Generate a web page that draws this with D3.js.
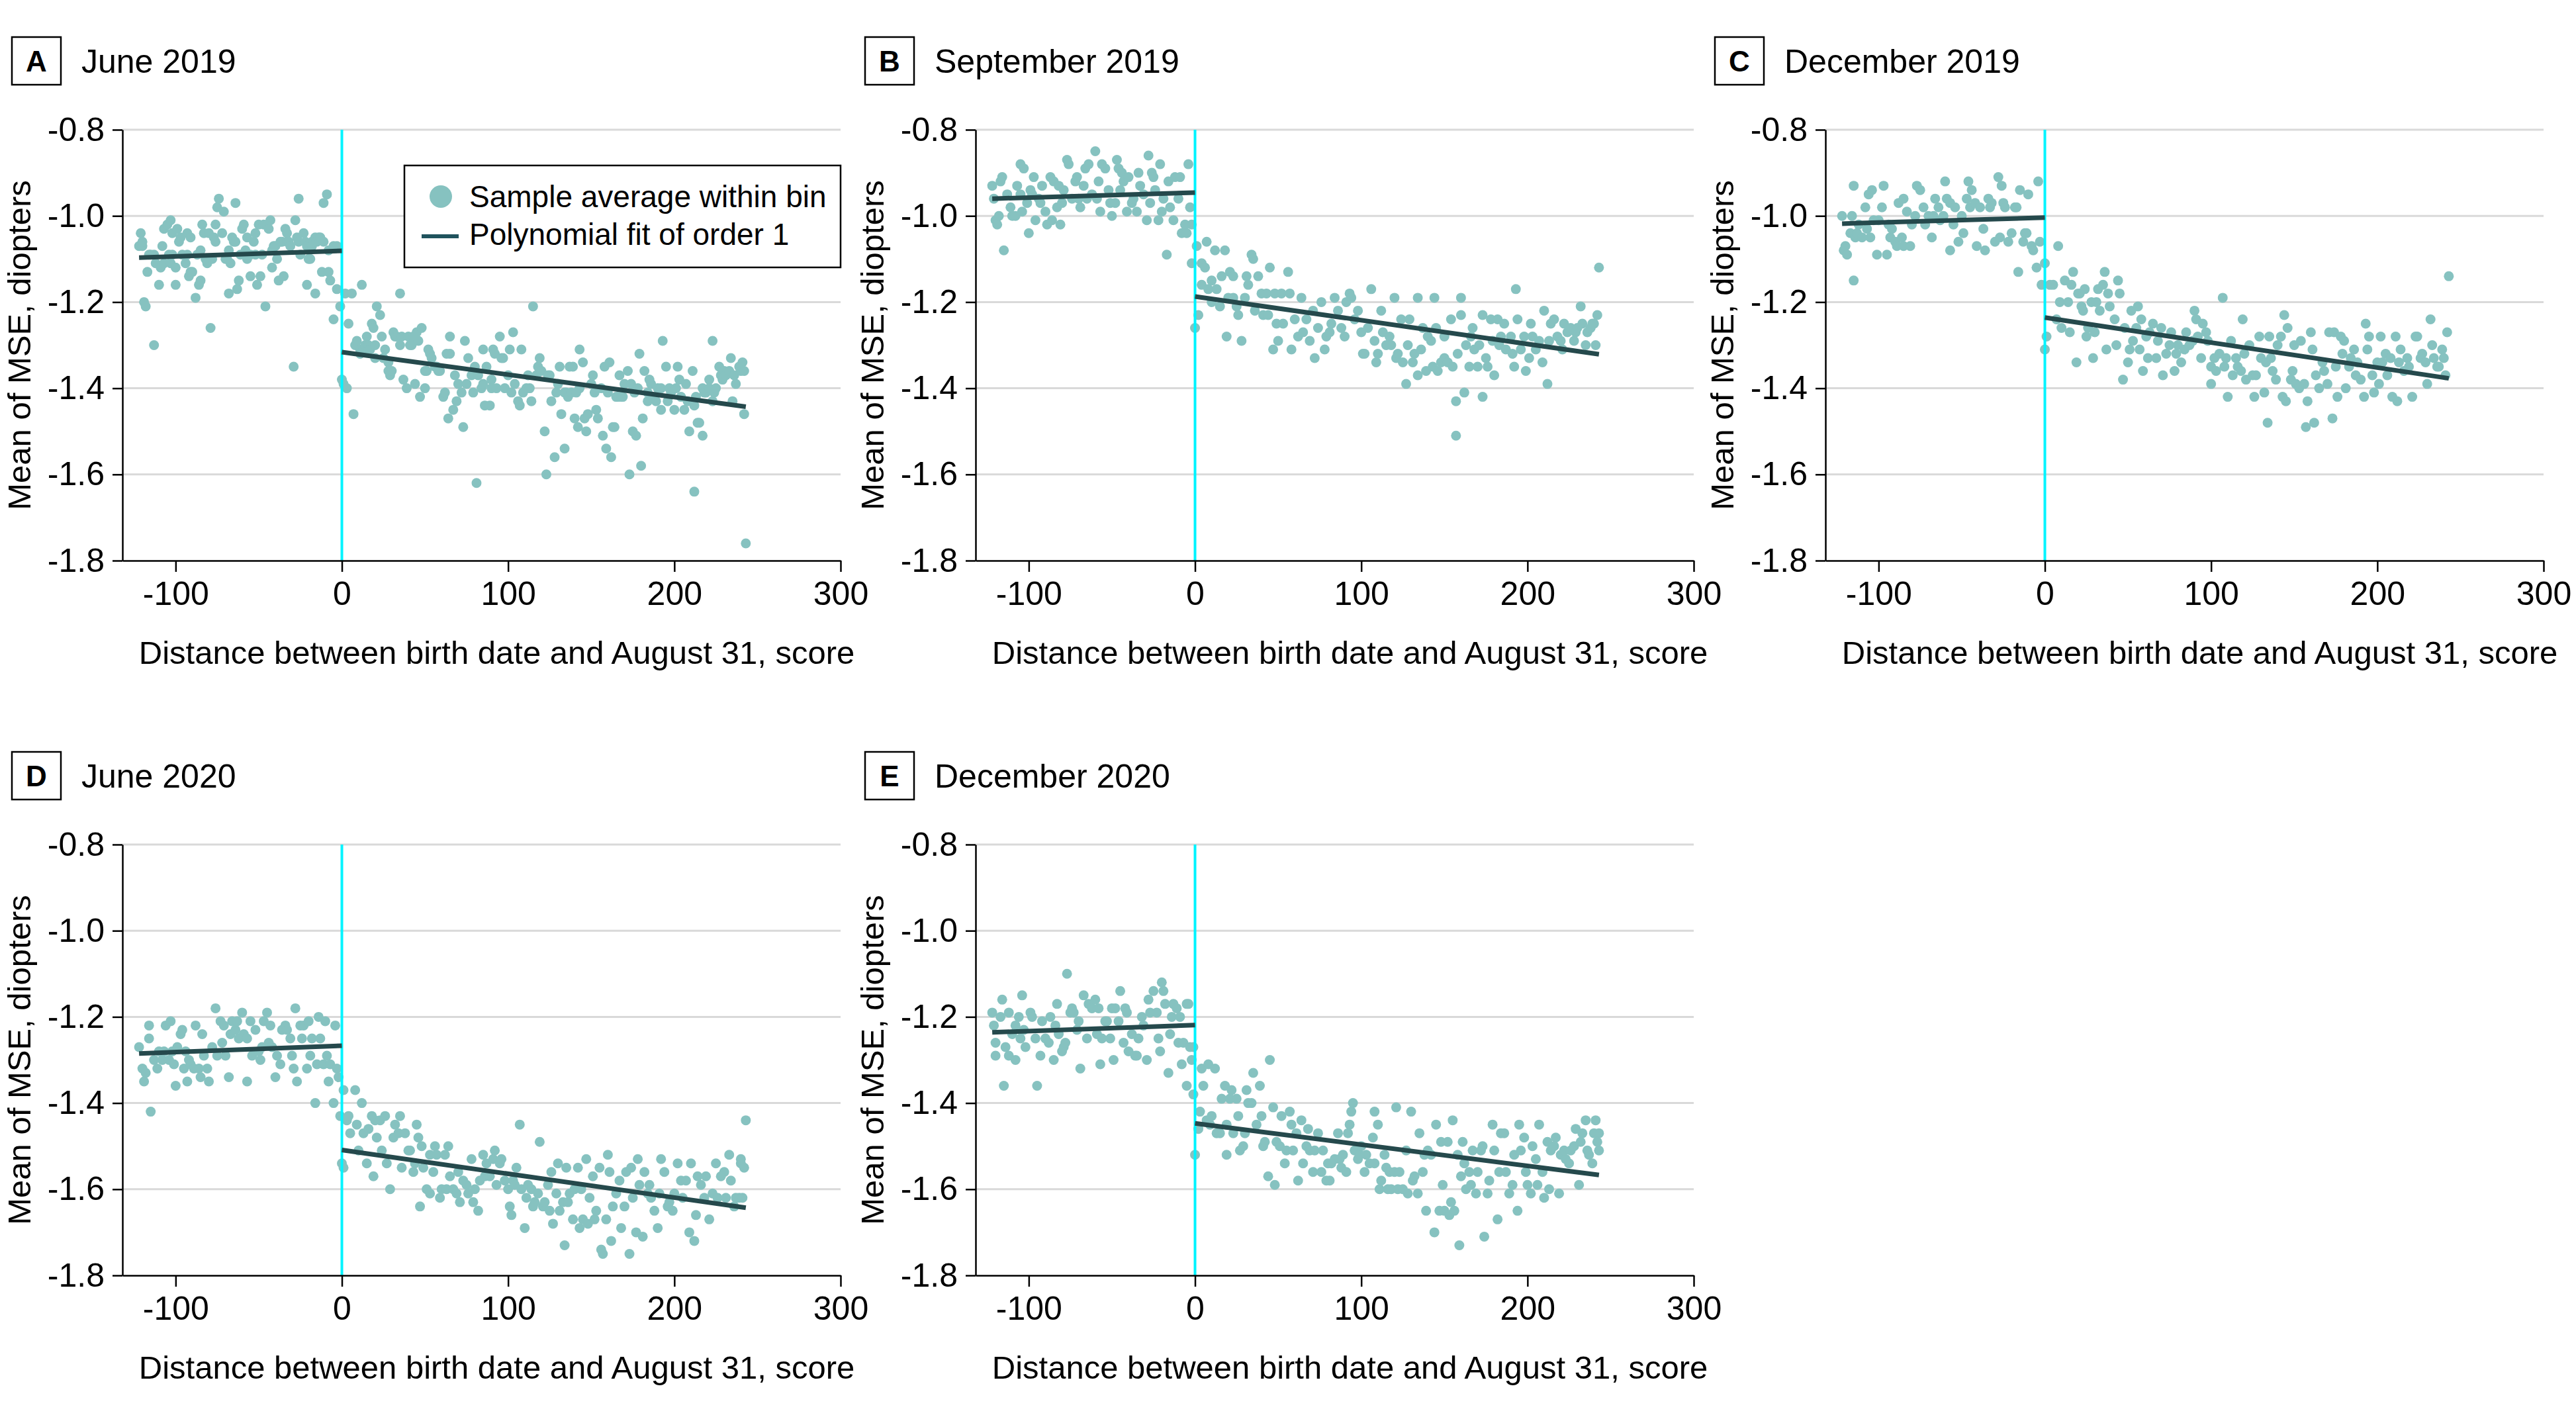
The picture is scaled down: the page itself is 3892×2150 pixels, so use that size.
<!DOCTYPE html>
<html lang="en">
<head>
<meta charset="utf-8">
<title>Mean MSE by distance between birth date and August 31</title>
<script src="https://d3js.org/d3.v7.min.js"></script>
<style>
  body { margin: 0; background: #fff; }
  svg { font-family: "Liberation Sans", Arial, sans-serif; }
</style>
</head>
<body>
<script>
// ---- data ----
var xTicks = [-100, 0, 100, 200, 300];
var yTicks = [-0.8, -1.0, -1.2, -1.4, -1.6, -1.8];
var letters = ["A", "B", "C", "D", "E"];
var titles = ["June 2019", "September 2019", "December 2019", "June 2020", "December 2020"];
var legendLabels = ["Sample average within bin", "Polynomial fit of order 1"];
var xLabel = "Distance between birth date and August 31, score";
var yLabel = "Mean of MSE, diopters";

// fit line ends: x positions, then per panel [left start, left end, right start, right end]
var fitX = [-122, 0, 0, 243];
var fitA = [-1.097, -1.081, -1.316, -1.443];
var fitB = [-0.960, -0.946, -1.187, -1.321];
var fitC = [-1.018, -1.004, -1.236, -1.377];
var fitD = [-1.285, -1.267, -1.509, -1.643];
var fitE = [-1.236, -1.219, -1.447, -1.567];

// bin averages [distance, mean MSE]
var ptsA = [[-122,-1.07],[-121,-1.04],[-120,-1.07],[-120,-1.06],[-119,-1.20],[-118,-1.21],[-117,-1.13],[-116,-1.09],[-115,-1.09],[-113,-1.30],[-113,-1.09],[-112,-1.11],[-110,-1.16],[-109,-1.12],[-108,-1.07],[-107,-1.11],[-107,-1.03],[-105,-1.02],[-104,-1.09],[-103,-1.01],[-103,-1.11],[-102,-1.04],[-102,-1.09],[-100,-1.12],[-100,-1.16],[-99,-1.03],[-98,-1.06],[-97,-1.05],[-96,-1.09],[-94,-1.11],[-93,-1.04],[-93,-1.09],[-92,-1.14],[-91,-1.05],[-91,-1.13],[-90,-1.13],[-88,-1.19],[-87,-1.09],[-86,-1.16],[-85,-1.15],[-85,-1.08],[-84,-1.02],[-83,-1.04],[-82,-1.10],[-81,-1.11],[-80,-1.04],[-79,-1.26],[-78,-1.10],[-77,-1.05],[-76,-1.06],[-76,-1.02],[-75,-0.98],[-74,-0.96],[-72,-1.04],[-71,-0.99],[-70,-1.10],[-69,-1.10],[-68,-1.18],[-68,-1.08],[-67,-1.11],[-66,-1.05],[-65,-1.06],[-64,-0.97],[-64,-1.06],[-63,-1.17],[-62,-1.15],[-61,-1.09],[-60,-1.03],[-59,-1.02],[-58,-1.08],[-57,-1.10],[-57,-1.05],[-55,-1.14],[-55,-1.09],[-53,-1.06],[-52,-1.09],[-52,-1.04],[-51,-1.16],[-50,-1.02],[-49,-1.14],[-48,-1.09],[-47,-1.02],[-46,-1.21],[-44,-1.03],[-43,-1.01],[-42,-1.12],[-42,-1.08],[-41,-1.07],[-40,-1.07],[-39,-1.10],[-38,-1.15],[-37,-1.06],[-36,-1.06],[-35,-1.14],[-34,-1.03],[-33,-1.04],[-33,-1.06],[-32,-1.06],[-31,-1.07],[-29,-1.35],[-28,-1.01],[-27,-1.05],[-26,-0.96],[-26,-1.06],[-25,-1.09],[-23,-1.04],[-22,-1.06],[-21,-1.16],[-21,-1.07],[-20,-1.10],[-19,-1.10],[-18,-1.06],[-18,-1.07],[-16,-1.18],[-16,-1.05],[-15,-1.06],[-14,-1.05],[-13,-1.05],[-12,-1.13],[-11,-0.97],[-11,-1.06],[-9,-0.95],[-8,-1.13],[-8,-1.08],[-7,-1.15],[-5,-1.24],[-5,-1.07],[-3,-1.07],[-3,-1.17],[-1,-1.21],
[0,-1.38],[1,-1.39],[2,-1.18],[3,-1.40],[4,-1.25],[6,-1.18],[7,-1.46],[8,-1.30],[9,-1.29],[11,-1.31],[11,-1.32],[12,-1.16],[13,-1.31],[14,-1.30],[15,-1.28],[16,-1.30],[17,-1.31],[18,-1.25],[19,-1.26],[20,-1.33],[20,-1.30],[21,-1.21],[23,-1.23],[24,-1.28],[25,-1.33],[26,-1.31],[28,-1.34],[28,-1.36],[29,-1.37],[30,-1.36],[31,-1.27],[32,-1.28],[33,-1.28],[35,-1.18],[35,-1.30],[36,-1.28],[37,-1.38],[39,-1.40],[40,-1.28],[41,-1.30],[42,-1.30],[43,-1.28],[44,-1.39],[45,-1.27],[46,-1.29],[47,-1.42],[48,-1.26],[50,-1.40],[50,-1.36],[51,-1.36],[52,-1.31],[53,-1.32],[54,-1.33],[56,-1.35],[57,-1.35],[58,-1.36],[59,-1.36],[61,-1.42],[62,-1.41],[63,-1.32],[64,-1.47],[65,-1.28],[65,-1.32],[67,-1.45],[68,-1.37],[69,-1.43],[70,-1.39],[72,-1.41],[73,-1.49],[74,-1.29],[75,-1.39],[76,-1.33],[78,-1.37],[79,-1.41],[80,-1.35],[81,-1.62],[82,-1.37],[84,-1.40],[85,-1.31],[85,-1.39],[86,-1.44],[87,-1.35],[89,-1.44],[90,-1.38],[90,-1.40],[91,-1.31],[92,-1.32],[93,-1.40],[95,-1.28],[96,-1.33],[97,-1.33],[98,-1.40],[100,-1.37],[101,-1.31],[102,-1.41],[103,-1.27],[104,-1.39],[106,-1.43],[107,-1.44],[108,-1.31],[109,-1.41],[111,-1.40],[112,-1.37],[113,-1.40],[114,-1.43],[115,-1.21],[117,-1.37],[118,-1.35],[119,-1.33],[120,-1.36],[122,-1.50],[123,-1.60],[124,-1.37],[125,-1.37],[126,-1.43],[128,-1.56],[129,-1.41],[130,-1.39],[131,-1.35],[132,-1.46],[134,-1.41],[134,-1.54],[135,-1.41],[136,-1.42],[137,-1.35],[138,-1.41],[139,-1.35],[140,-1.47],[141,-1.41],[142,-1.49],[143,-1.40],[143,-1.31],[145,-1.34],[146,-1.47],[147,-1.50],[148,-1.46],[150,-1.39],[151,-1.37],[152,-1.41],[153,-1.45],[154,-1.47],[156,-1.40],[157,-1.51],[158,-1.35],[159,-1.54],[160,-1.41],[161,-1.34],[162,-1.56],[163,-1.49],[164,-1.49],[165,-1.42],[166,-1.42],[167,-1.37],[168,-1.42],[169,-1.42],[170,-1.39],[172,-1.36],[173,-1.60],[174,-1.39],[175,-1.50],[176,-1.41],[177,-1.51],[178,-1.40],[179,-1.32],[180,-1.58],[181,-1.47],[182,-1.36],[184,-1.43],[184,-1.41],[185,-1.38],[186,-1.39],[187,-1.42],[189,-1.43],[190,-1.40],[192,-1.45],[192,-1.40],[193,-1.29],[195,-1.35],[196,-1.43],[197,-1.40],[198,-1.41],[200,-1.45],[201,-1.40],[202,-1.35],[203,-1.38],[204,-1.42],[206,-1.45],[207,-1.39],[208,-1.43],[209,-1.50],[211,-1.36],[212,-1.44],[212,-1.64],[213,-1.42],[214,-1.48],[215,-1.48],[217,-1.40],[217,-1.51],[218,-1.41],[219,-1.41],[221,-1.38],[221,-1.40],[223,-1.43],[223,-1.29],[224,-1.41],[225,-1.40],[227,-1.35],[228,-1.37],[229,-1.38],[230,-1.36],[231,-1.37],[233,-1.36],[234,-1.33],[235,-1.43],[236,-1.37],[237,-1.39],[239,-1.35],[240,-1.36],[241,-1.34],[242,-1.46],[242,-1.36],[243,-1.76]];

var ptsB = [[-122,-0.93],[-121,-0.96],[-120,-1.01],[-119,-1.02],[-118,-1.00],[-117,-0.92],[-116,-0.91],[-115,-1.08],[-113,-0.95],[-111,-0.98],[-110,-1.00],[-108,-1.00],[-107,-0.93],[-105,-0.88],[-105,-0.95],[-104,-0.99],[-103,-0.89],[-101,-0.97],[-100,-1.04],[-99,-0.94],[-98,-0.95],[-97,-0.91],[-96,-1.01],[-94,-0.96],[-93,-0.97],[-92,-0.93],[-90,-0.99],[-89,-1.02],[-87,-0.91],[-86,-1.01],[-85,-0.92],[-83,-0.98],[-82,-0.93],[-81,-1.02],[-80,-0.97],[-79,-0.94],[-77,-0.87],[-76,-0.88],[-74,-0.96],[-72,-0.92],[-71,-0.91],[-70,-0.96],[-69,-0.98],[-67,-0.93],[-66,-0.89],[-65,-0.96],[-64,-0.88],[-62,-0.95],[-60,-0.85],[-59,-0.96],[-58,-0.92],[-57,-0.99],[-56,-0.88],[-54,-0.89],[-52,-0.94],[-51,-0.97],[-50,-1.00],[-48,-0.97],[-47,-0.87],[-46,-0.89],[-45,-0.94],[-44,-0.90],[-43,-0.92],[-41,-0.99],[-40,-0.91],[-38,-0.97],[-37,-0.96],[-35,-0.99],[-34,-0.90],[-33,-0.93],[-31,-0.95],[-29,-1.01],[-28,-0.86],[-27,-0.97],[-26,-0.90],[-25,-0.91],[-24,-0.94],[-22,-1.01],[-21,-0.88],[-20,-0.99],[-19,-0.96],[-17,-1.09],[-16,-0.92],[-15,-0.98],[-13,-1.01],[-12,-0.91],[-10,-0.96],[-9,-0.91],[-8,-1.04],[-6,-1.02],[-5,-1.04],[-4,-0.88],[-3,-0.98],[-2,-1.02],[-2,-1.11],
[0,-1.26],[1,-1.07],[2,-1.23],[4,-1.11],[4,-1.16],[6,-1.12],[7,-1.06],[8,-1.17],[10,-1.15],[10,-1.20],[12,-1.08],[13,-1.17],[15,-1.21],[16,-1.14],[18,-1.08],[19,-1.28],[20,-1.19],[21,-1.13],[23,-1.19],[23,-1.14],[25,-1.21],[26,-1.23],[28,-1.29],[30,-1.19],[31,-1.14],[32,-1.16],[34,-1.09],[35,-1.10],[36,-1.22],[38,-1.14],[40,-1.18],[41,-1.23],[43,-1.18],[44,-1.23],[45,-1.12],[47,-1.31],[48,-1.18],[49,-1.25],[50,-1.29],[52,-1.18],[53,-1.25],[56,-1.13],[57,-1.18],[58,-1.31],[60,-1.24],[62,-1.28],[64,-1.19],[65,-1.27],[67,-1.24],[69,-1.29],[71,-1.22],[72,-1.33],[74,-1.26],[76,-1.20],[78,-1.31],[79,-1.28],[81,-1.27],[82,-1.25],[84,-1.19],[86,-1.22],[88,-1.26],[90,-1.28],[91,-1.20],[93,-1.18],[94,-1.19],[96,-1.24],[98,-1.22],[100,-1.27],[101,-1.32],[102,-1.32],[104,-1.26],[106,-1.17],[108,-1.29],[109,-1.34],[110,-1.32],[112,-1.22],[113,-1.27],[115,-1.30],[117,-1.28],[118,-1.30],[120,-1.19],[121,-1.33],[122,-1.32],[124,-1.24],[125,-1.34],[127,-1.39],[128,-1.30],[129,-1.24],[131,-1.34],[132,-1.32],[134,-1.37],[134,-1.19],[136,-1.31],[137,-1.26],[139,-1.36],[140,-1.28],[142,-1.29],[143,-1.35],[144,-1.19],[145,-1.26],[146,-1.36],[148,-1.34],[150,-1.28],[150,-1.33],[152,-1.34],[154,-1.24],[155,-1.35],[157,-1.51],[157,-1.43],[158,-1.32],[160,-1.19],[160,-1.23],[162,-1.41],[163,-1.30],[165,-1.35],[166,-1.28],[167,-1.26],[168,-1.31],[170,-1.35],[171,-1.30],[173,-1.23],[173,-1.42],[175,-1.33],[176,-1.35],[178,-1.24],[179,-1.29],[180,-1.37],[182,-1.24],[183,-1.30],[184,-1.28],[186,-1.25],[187,-1.31],[190,-1.28],[191,-1.32],[192,-1.35],[193,-1.17],[194,-1.24],[196,-1.31],[198,-1.28],[199,-1.36],[201,-1.33],[202,-1.25],[203,-1.28],[205,-1.31],[207,-1.29],[209,-1.34],[210,-1.22],[212,-1.39],[213,-1.29],[214,-1.25],[216,-1.24],[218,-1.28],[220,-1.29],[221,-1.31],[222,-1.25],[224,-1.27],[226,-1.26],[228,-1.29],[229,-1.27],[230,-1.26],[232,-1.21],[233,-1.25],[235,-1.30],[236,-1.27],[238,-1.26],[239,-1.25],[240,-1.25],[241,-1.30],[242,-1.23],[243,-1.12]];

var ptsC = [[-122,-1.00],[-121,-1.08],[-120,-1.07],[-119,-1.09],[-117,-1.04],[-116,-1.00],[-115,-0.93],[-115,-1.15],[-114,-1.05],[-113,-1.04],[-112,-1.02],[-110,-1.05],[-108,-0.98],[-107,-1.03],[-106,-0.95],[-105,-1.05],[-104,-0.94],[-103,-1.01],[-101,-1.09],[-100,-1.01],[-98,-0.98],[-97,-0.93],[-95,-1.09],[-94,-1.02],[-93,-1.05],[-92,-1.03],[-90,-1.06],[-89,-1.07],[-88,-0.97],[-86,-1.05],[-85,-1.07],[-85,-0.96],[-83,-0.99],[-81,-1.07],[-80,-1.02],[-78,-1.00],[-77,-0.93],[-75,-0.94],[-73,-0.98],[-72,-1.02],[-70,-1.00],[-68,-1.05],[-67,-1.00],[-66,-0.96],[-64,-0.98],[-63,-1.01],[-61,-1.00],[-60,-0.92],[-59,-0.96],[-57,-1.08],[-57,-0.97],[-55,-1.02],[-54,-0.98],[-52,-1.06],[-50,-1.00],[-49,-1.04],[-47,-0.96],[-46,-0.92],[-45,-0.98],[-44,-0.94],[-42,-0.97],[-41,-1.07],[-39,-0.98],[-37,-1.03],[-36,-1.08],[-34,-0.96],[-33,-0.98],[-32,-0.97],[-30,-1.06],[-28,-0.91],[-27,-1.05],[-26,-0.93],[-25,-0.97],[-24,-0.98],[-22,-1.06],[-20,-1.04],[-18,-0.98],[-17,-0.98],[-16,-1.13],[-15,-0.94],[-13,-1.06],[-12,-1.04],[-11,-1.04],[-10,-0.95],[-8,-1.07],[-7,-1.08],[-5,-1.12],[-4,-0.92],[-3,-1.06],[-2,-1.16],
[0,-1.31],[1,-1.28],[0,-1.11],[3,-1.16],[5,-1.16],[7,-1.24],[8,-1.07],[9,-1.20],[10,-1.26],[12,-1.15],[14,-1.20],[15,-1.27],[16,-1.16],[17,-1.13],[19,-1.34],[20,-1.18],[21,-1.18],[22,-1.21],[23,-1.22],[24,-1.17],[25,-1.28],[26,-1.26],[28,-1.20],[29,-1.33],[30,-1.27],[31,-1.20],[32,-1.17],[33,-1.22],[35,-1.16],[36,-1.13],[37,-1.31],[38,-1.18],[39,-1.21],[42,-1.24],[43,-1.30],[44,-1.15],[45,-1.18],[47,-1.38],[48,-1.26],[50,-1.34],[51,-1.31],[52,-1.22],[53,-1.29],[55,-1.26],[56,-1.21],[57,-1.31],[58,-1.24],[59,-1.36],[61,-1.28],[62,-1.33],[63,-1.27],[65,-1.25],[67,-1.33],[68,-1.29],[70,-1.26],[71,-1.37],[73,-1.32],[75,-1.30],[76,-1.27],[78,-1.36],[79,-1.32],[80,-1.30],[82,-1.34],[84,-1.31],[85,-1.27],[87,-1.30],[89,-1.29],[90,-1.22],[91,-1.24],[92,-1.28],[94,-1.33],[95,-1.25],[97,-1.27],[98,-1.29],[100,-1.35],[100,-1.39],[102,-1.33],[103,-1.36],[105,-1.32],[107,-1.19],[108,-1.35],[109,-1.33],[110,-1.42],[112,-1.29],[113,-1.37],[115,-1.33],[116,-1.35],[118,-1.36],[119,-1.24],[120,-1.32],[121,-1.38],[123,-1.30],[125,-1.37],[126,-1.42],[127,-1.37],[129,-1.28],[130,-1.33],[132,-1.41],[133,-1.34],[134,-1.48],[135,-1.28],[136,-1.33],[137,-1.36],[139,-1.38],[140,-1.30],[142,-1.28],[143,-1.42],[144,-1.23],[145,-1.43],[146,-1.26],[148,-1.38],[149,-1.36],[150,-1.30],[151,-1.39],[153,-1.40],[154,-1.29],[156,-1.39],[157,-1.49],[158,-1.43],[160,-1.27],[161,-1.31],[162,-1.48],[163,-1.37],[165,-1.40],[167,-1.34],[168,-1.36],[170,-1.39],[171,-1.27],[173,-1.47],[174,-1.27],[175,-1.35],[176,-1.42],[178,-1.28],[179,-1.32],[180,-1.29],[181,-1.40],[183,-1.35],[184,-1.33],[186,-1.31],[187,-1.37],[188,-1.34],[190,-1.38],[192,-1.42],[193,-1.25],[194,-1.31],[195,-1.28],[197,-1.37],[198,-1.41],[200,-1.34],[201,-1.39],[202,-1.28],[203,-1.34],[205,-1.32],[206,-1.37],[208,-1.33],[209,-1.42],[211,-1.28],[212,-1.43],[213,-1.34],[214,-1.31],[216,-1.36],[218,-1.33],[219,-1.35],[221,-1.42],[223,-1.28],[224,-1.28],[226,-1.33],[227,-1.32],[229,-1.34],[230,-1.39],[232,-1.24],[233,-1.30],[234,-1.33],[236,-1.35],[237,-1.35],[239,-1.31],[240,-1.33],[241,-1.37],[242,-1.27],[243,-1.14]];

var ptsD = [[-122,-1.27],[-120,-1.32],[-119,-1.35],[-118,-1.33],[-116,-1.25],[-116,-1.22],[-115,-1.42],[-113,-1.30],[-111,-1.32],[-110,-1.28],[-108,-1.30],[-107,-1.28],[-106,-1.22],[-104,-1.30],[-103,-1.21],[-102,-1.28],[-101,-1.31],[-100,-1.36],[-99,-1.27],[-97,-1.24],[-96,-1.23],[-95,-1.32],[-94,-1.28],[-93,-1.35],[-92,-1.30],[-91,-1.31],[-89,-1.32],[-88,-1.22],[-86,-1.32],[-85,-1.34],[-84,-1.24],[-83,-1.29],[-81,-1.32],[-80,-1.35],[-78,-1.27],[-76,-1.18],[-75,-1.29],[-73,-1.21],[-72,-1.26],[-71,-1.22],[-70,-1.29],[-68,-1.34],[-67,-1.24],[-66,-1.21],[-64,-1.23],[-63,-1.21],[-62,-1.25],[-60,-1.19],[-59,-1.24],[-57,-1.35],[-57,-1.25],[-55,-1.21],[-54,-1.29],[-52,-1.23],[-50,-1.28],[-49,-1.30],[-48,-1.27],[-47,-1.21],[-45,-1.19],[-44,-1.26],[-43,-1.22],[-42,-1.27],[-40,-1.34],[-39,-1.29],[-37,-1.31],[-36,-1.23],[-34,-1.22],[-33,-1.23],[-31,-1.25],[-30,-1.29],[-29,-1.32],[-28,-1.18],[-27,-1.35],[-25,-1.22],[-24,-1.25],[-23,-1.22],[-21,-1.32],[-20,-1.21],[-19,-1.29],[-18,-1.25],[-16,-1.40],[-15,-1.31],[-14,-1.20],[-13,-1.25],[-11,-1.31],[-10,-1.21],[-9,-1.29],[-8,-1.35],[-7,-1.31],[-5,-1.40],[-4,-1.22],[-3,-1.32],[-2,-1.34],[-1,-1.43],
[0,-1.54],[1,-1.55],[1,-1.37],[3,-1.44],[4,-1.43],[5,-1.47],[8,-1.37],[9,-1.45],[10,-1.51],[12,-1.40],[13,-1.47],[15,-1.54],[16,-1.46],[18,-1.43],[19,-1.57],[20,-1.44],[21,-1.48],[23,-1.44],[24,-1.51],[26,-1.43],[27,-1.54],[29,-1.60],[31,-1.48],[32,-1.45],[34,-1.47],[35,-1.43],[36,-1.55],[38,-1.47],[40,-1.51],[41,-1.51],[43,-1.56],[44,-1.54],[45,-1.45],[46,-1.48],[47,-1.64],[48,-1.50],[49,-1.55],[51,-1.60],[53,-1.52],[53,-1.61],[55,-1.56],[56,-1.50],[57,-1.52],[59,-1.62],[60,-1.60],[62,-1.52],[63,-1.60],[64,-1.50],[65,-1.57],[67,-1.60],[69,-1.61],[70,-1.56],[71,-1.63],[73,-1.58],[75,-1.59],[76,-1.61],[78,-1.53],[79,-1.63],[80,-1.60],[82,-1.65],[83,-1.58],[85,-1.52],[86,-1.57],[87,-1.54],[89,-1.57],[91,-1.53],[92,-1.51],[93,-1.59],[95,-1.54],[96,-1.53],[98,-1.58],[100,-1.60],[101,-1.64],[102,-1.66],[103,-1.58],[104,-1.59],[105,-1.55],[107,-1.45],[108,-1.60],[110,-1.69],[111,-1.62],[112,-1.59],[114,-1.60],[115,-1.64],[116,-1.63],[118,-1.61],[119,-1.49],[121,-1.64],[122,-1.63],[124,-1.59],[125,-1.65],[126,-1.56],[127,-1.68],[129,-1.61],[130,-1.54],[131,-1.65],[133,-1.63],[134,-1.73],[135,-1.55],[136,-1.63],[137,-1.61],[139,-1.67],[140,-1.60],[142,-1.55],[143,-1.69],[144,-1.60],[145,-1.67],[147,-1.53],[148,-1.68],[149,-1.62],[151,-1.57],[152,-1.67],[153,-1.65],[155,-1.55],[156,-1.74],[157,-1.75],[159,-1.67],[160,-1.52],[161,-1.56],[162,-1.72],[163,-1.64],[165,-1.61],[167,-1.58],[168,-1.69],[170,-1.64],[171,-1.56],[173,-1.75],[174,-1.55],[175,-1.62],[177,-1.70],[178,-1.53],[179,-1.59],[181,-1.71],[182,-1.56],[184,-1.61],[185,-1.59],[186,-1.62],[188,-1.65],[190,-1.69],[191,-1.61],[192,-1.53],[194,-1.56],[196,-1.64],[197,-1.63],[199,-1.65],[200,-1.61],[202,-1.54],[204,-1.58],[205,-1.62],[207,-1.58],[209,-1.70],[210,-1.54],[212,-1.72],[213,-1.66],[214,-1.57],[216,-1.59],[218,-1.62],[219,-1.57],[221,-1.67],[223,-1.61],[225,-1.54],[226,-1.62],[228,-1.57],[230,-1.56],[231,-1.62],[233,-1.52],[234,-1.58],[236,-1.64],[237,-1.62],[239,-1.62],[240,-1.54],[240,-1.53],[241,-1.62],[242,-1.55],[243,-1.44]];

var ptsE = [[-122,-1.19],[-121,-1.22],[-120,-1.26],[-120,-1.29],[-117,-1.20],[-116,-1.16],[-115,-1.36],[-114,-1.27],[-112,-1.19],[-112,-1.29],[-110,-1.24],[-108,-1.30],[-108,-1.22],[-106,-1.20],[-105,-1.25],[-104,-1.15],[-103,-1.23],[-102,-1.27],[-99,-1.19],[-98,-1.20],[-96,-1.25],[-95,-1.36],[-93,-1.29],[-92,-1.21],[-90,-1.25],[-88,-1.26],[-87,-1.20],[-85,-1.30],[-84,-1.22],[-83,-1.17],[-82,-1.24],[-80,-1.28],[-79,-1.27],[-78,-1.26],[-77,-1.10],[-75,-1.19],[-74,-1.18],[-73,-1.19],[-71,-1.23],[-70,-1.21],[-69,-1.32],[-67,-1.15],[-65,-1.25],[-64,-1.17],[-62,-1.18],[-60,-1.16],[-59,-1.24],[-58,-1.18],[-57,-1.31],[-56,-1.25],[-54,-1.21],[-53,-1.21],[-51,-1.25],[-50,-1.18],[-49,-1.30],[-48,-1.18],[-46,-1.21],[-45,-1.14],[-43,-1.26],[-42,-1.18],[-41,-1.19],[-40,-1.28],[-38,-1.24],[-36,-1.29],[-35,-1.29],[-34,-1.25],[-32,-1.20],[-31,-1.22],[-29,-1.30],[-28,-1.16],[-27,-1.19],[-25,-1.14],[-23,-1.19],[-22,-1.25],[-21,-1.28],[-20,-1.12],[-19,-1.14],[-18,-1.17],[-16,-1.33],[-15,-1.24],[-14,-1.20],[-13,-1.17],[-11,-1.18],[-10,-1.26],[-9,-1.20],[-8,-1.31],[-7,-1.26],[-5,-1.36],[-5,-1.17],[-4,-1.17],[-3,-1.27],[-2,-1.30],[-1,-1.38],[-1,-1.27],
[0,-1.52],[2,-1.46],[3,-1.42],[4,-1.32],[5,-1.36],[7,-1.44],[8,-1.31],[9,-1.45],[10,-1.43],[12,-1.32],[13,-1.47],[15,-1.47],[16,-1.39],[18,-1.36],[19,-1.45],[19,-1.52],[21,-1.39],[22,-1.37],[23,-1.47],[25,-1.39],[26,-1.43],[27,-1.51],[29,-1.50],[30,-1.47],[31,-1.37],[32,-1.40],[34,-1.40],[35,-1.33],[37,-1.45],[39,-1.36],[40,-1.43],[41,-1.50],[42,-1.49],[44,-1.57],[45,-1.30],[47,-1.41],[48,-1.59],[49,-1.49],[51,-1.50],[52,-1.43],[54,-1.54],[55,-1.51],[57,-1.42],[58,-1.45],[59,-1.51],[61,-1.47],[62,-1.58],[64,-1.44],[65,-1.54],[67,-1.50],[68,-1.46],[69,-1.51],[71,-1.56],[72,-1.51],[74,-1.47],[76,-1.56],[77,-1.51],[79,-1.58],[80,-1.54],[81,-1.58],[82,-1.54],[84,-1.53],[86,-1.47],[87,-1.53],[88,-1.55],[89,-1.52],[91,-1.56],[92,-1.47],[93,-1.45],[94,-1.42],[95,-1.40],[96,-1.51],[98,-1.53],[99,-1.52],[100,-1.50],[102,-1.56],[103,-1.52],[105,-1.54],[107,-1.48],[108,-1.42],[108,-1.54],[110,-1.45],[111,-1.60],[112,-1.58],[114,-1.52],[115,-1.55],[116,-1.60],[117,-1.56],[118,-1.60],[120,-1.56],[121,-1.41],[122,-1.60],[123,-1.56],[125,-1.60],[127,-1.51],[128,-1.61],[130,-1.42],[131,-1.58],[132,-1.57],[134,-1.61],[135,-1.47],[137,-1.56],[138,-1.52],[139,-1.65],[140,-1.51],[142,-1.52],[144,-1.70],[145,-1.45],[147,-1.65],[148,-1.49],[149,-1.59],[150,-1.65],[152,-1.49],[153,-1.66],[154,-1.63],[155,-1.44],[156,-1.65],[158,-1.52],[159,-1.73],[160,-1.57],[161,-1.49],[162,-1.54],[163,-1.60],[165,-1.56],[166,-1.59],[167,-1.51],[169,-1.61],[170,-1.56],[172,-1.51],[173,-1.50],[174,-1.71],[176,-1.61],[177,-1.58],[179,-1.45],[180,-1.51],[182,-1.67],[183,-1.56],[184,-1.47],[186,-1.47],[187,-1.56],[189,-1.61],[191,-1.59],[192,-1.52],[194,-1.65],[195,-1.45],[196,-1.51],[198,-1.48],[199,-1.56],[200,-1.59],[202,-1.61],[203,-1.50],[205,-1.53],[206,-1.59],[207,-1.45],[209,-1.56],[210,-1.62],[212,-1.49],[213,-1.60],[214,-1.51],[216,-1.50],[217,-1.48],[219,-1.61],[220,-1.52],[222,-1.51],[223,-1.53],[225,-1.54],[226,-1.51],[228,-1.50],[229,-1.46],[231,-1.59],[232,-1.49],[233,-1.47],[235,-1.44],[236,-1.51],[237,-1.52],[239,-1.54],[240,-1.47],[241,-1.44],[243,-1.51],[243,-1.47],[242,-1.49]];

// ---- layout ----
var width = 3892, height = 2150;
var colLeft = [185, 1474, 2758];
var rowTop = [196, 1276];
var plotW = 1085, plotH = 651;

var dotColor = "#86c2c0";
var fitColor = "#25494c";
var cutColor = "#00f4ff";

var svg = d3.select("body").append("svg")
    .attr("width", width)
    .attr("height", height);

var x = d3.scaleLinear().domain([-132, 300]).range([0, plotW]);
var y = d3.scaleLinear().domain([-1.8, -0.8]).range([plotH, 0]);

var panels = [
    {pts: ptsA, fit: fitA},
    {pts: ptsB, fit: fitB},
    {pts: ptsC, fit: fitC},
    {pts: ptsD, fit: fitD},
    {pts: ptsE, fit: fitE}
];

panels.forEach(function(p, i) {
    var g = svg.append("g")
        .attr("transform", "translate(" + colLeft[i % 3] + "," + rowTop[Math.floor(i / 3)] + ")");

    // gridlines
    g.selectAll(".grid")
        .data(yTicks.slice(0, -1))
      .enter().append("line")
        .attr("x1", 0)
        .attr("x2", plotW)
        .attr("y1", function(d) { return y(d); })
        .attr("y2", function(d) { return y(d); })
        .attr("stroke", "#d9d9d9")
        .attr("stroke-width", 3);

    // dots
    g.selectAll("circle")
        .data(p.pts)
      .enter().append("circle")
        .attr("cx", function(d) { return x(d[0]); })
        .attr("cy", function(d) { return y(d[1]); })
        .attr("r", 7.5)
        .attr("fill", dotColor);

    // cutoff at 0
    g.append("line")
        .attr("x1", x(0)).attr("x2", x(0))
        .attr("y1", y(-0.8)).attr("y2", y(-1.8))
        .attr("stroke", cutColor)
        .attr("stroke-width", 4);

    // fit lines, one each side of the cutoff
    [0, 2].forEach(function(k) {
        g.append("line")
            .attr("x1", x(fitX[k])).attr("y1", y(p.fit[k]))
            .attr("x2", x(fitX[k + 1])).attr("y2", y(p.fit[k + 1]))
            .attr("stroke", fitColor)
            .attr("stroke-width", 7);
    });

    // axes
    var yAxis = g.append("g")
        .call(d3.axisLeft(y)
            .tickValues(yTicks)
            .tickFormat(function(d) { return d.toFixed(1); })
            .tickSize(15)
            .tickSizeOuter(0)
            .tickPadding(12));
    var xAxis = g.append("g")
        .attr("transform", "translate(0," + plotH + ")")
        .call(d3.axisBottom(x)
            .tickValues(xTicks)
            .tickFormat(function(d) { return String(d); })
            .tickSize(17)
            .tickSizeOuter(0)
            .tickPadding(14));
    [yAxis, xAxis].forEach(function(a) {
        a.attr("font-family", null).attr("font-size", 50);
        a.select(".domain").attr("stroke", "#000").attr("stroke-width", 2.5);
        a.selectAll(".tick line").attr("stroke", "#000").attr("stroke-width", 2.5);
        a.selectAll(".tick text").attr("fill", "#000");
    });

    // axis titles
    g.append("text")
        .attr("x", plotW / 2 + 23)
        .attr("y", plotH + 156)
        .attr("text-anchor", "middle")
        .attr("font-size", 49)
        .text(xLabel);
    g.append("text")
        .attr("transform", "translate(-139," + (plotH / 2) + ") rotate(-90)")
        .attr("text-anchor", "middle")
        .attr("font-size", 49)
        .text(yLabel);

    // panel letter and title
    g.append("rect")
        .attr("x", -167).attr("y", -140)
        .attr("width", 74).attr("height", 72)
        .attr("fill", "none")
        .attr("stroke", "#000")
        .attr("stroke-width", 2.5);
    g.append("text")
        .attr("x", -130).attr("y", -88)
        .attr("text-anchor", "middle")
        .attr("font-size", 44)
        .attr("font-weight", "bold")
        .text(letters[i]);
    g.append("text")
        .attr("x", -62).attr("y", -86)
        .attr("font-size", 50)
        .text(titles[i]);

    // legend only in panel A
    if (i === 0) {
        var lg = g.append("g");
        lg.append("rect")
            .attr("x", 426).attr("y", 54)
            .attr("width", 659).attr("height", 154)
            .attr("fill", "#fff")
            .attr("stroke", "#000")
            .attr("stroke-width", 2.5);
        lg.append("circle")
            .attr("cx", 481).attr("cy", 101)
            .attr("r", 17)
            .attr("fill", dotColor);
        lg.append("line")
            .attr("x1", 452).attr("x2", 508)
            .attr("y1", 161).attr("y2", 161)
            .attr("stroke", "#20535d")
            .attr("stroke-width", 6);
        lg.selectAll(".lbl")
            .data(legendLabels)
          .enter().append("text")
            .attr("x", 524)
            .attr("y", function(d, j) { return 117 + j * 57; })
            .attr("font-size", 46)
            .text(function(d) { return d; });
    }
});
</script>
</body>
</html>
